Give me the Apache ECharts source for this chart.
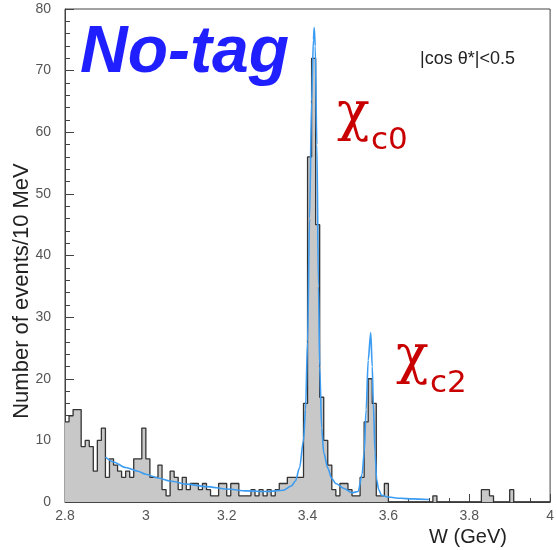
<!DOCTYPE html>
<html>
<head>
<meta charset="utf-8">
<script src="https://cdn.jsdelivr.net/npm/echarts@6/dist/echarts.min.js"></script>
<style>
html,body{margin:0;padding:0;background:#fff;}
#chart{width:557px;height:550px;}
</style>
</head>
<body>
<div id="chart"></div>
<script>
// ---- data ----
const binStart = 2.80;       // GeV, left edge of first bin
const binWidth = 0.01;       // 10 MeV bins
const counts = [
  13,14,15,15,9,10,9,5,10,12,
  4,7,6,5,4,5,4,7,7,12,
  7,4,4,6,2,1,5,4,2,4,
  2,3,3,2,3,2,1,1,3,3,
  1,3,3,1,1,1,2,1,2,1,
  2,1,2,3,3,4,4,4,4,16,
  56,72,45,17,10,6,2,1,3,3,
  2,1,1,4,13,20,16,1,1,3,
  0,0,0,0,0,0,0,0,0,0,
  0,1,0,0,0,0,0,0,0,0,
  0,0,0,2,2,1,0,0,0,0,
  2,0,0,0,0,0,0,0,0,0
];
const fitX = [2.90,2.92,2.95,2.98,3.00,3.03,3.06,3.10,3.15,3.20,3.25,3.30,3.34,3.36,3.37,3.38,3.39,3.395,3.40,3.405,3.41,3.4145,3.4165,3.419,3.423,3.427,3.43,3.435,3.44,3.45,3.46,3.47,3.49,3.51,3.525,3.535,3.54,3.545,3.55,3.5563,3.56,3.5627,3.567,3.571,3.576,3.583,3.60,3.63,3.66,3.70];
const fitY = [7.3,6.5,5.6,5.0,4.5,3.9,3.4,2.9,2.5,2.1,1.8,1.7,1.9,2.6,3.4,5.5,10,15,26,46,65,75,77,74,58,35,22,12,8,5.5,3.8,3.0,2.2,1.5,1.7,4.5,8,15,23,27.5,22,16,8,3.6,2.0,1.1,0.8,0.6,0.5,0.4];
const xTicks = [2.8,3.0,3.2,3.4,3.6,3.8,4.0];
const yTicks = [0,10,20,30,40,50,60,70,80];

// ---- build series data ----
const histData = counts.map((c,i)=>[+(binStart + i*binWidth).toFixed(3), c]);
histData.push([+(binStart + counts.length*binWidth).toFixed(3), counts[counts.length-1]]);
const fitData = fitX.map((x,i)=>[x, fitY[i]]);

const chart = echarts.init(document.getElementById('chart'), null, {renderer:'canvas'});
const FONT = '"Liberation Sans", Arial, sans-serif';
chart.setOption({
  animation:false,
  backgroundColor:'#fff',
  grid:{left:65, top:9, width:492, height:493, show:true, borderColor:'#444', borderWidth:1},
  xAxis:{
    type:'value', min:xTicks[0], max:xTicks[xTicks.length-1], interval:0.2,
    axisLine:{lineStyle:{color:'#444', width:1}},
    axisTick:{inside:true, length:8, lineStyle:{color:'#444'}},
    minorTick:{show:true, splitNumber:4, length:4, lineStyle:{color:'#444'}},
    splitLine:{show:false},
    axisLabel:{color:'#555', fontSize:14, fontFamily:FONT, margin:7,
      formatter:v=>String(+v.toFixed(1))}
  },
  yAxis:{
    type:'value', min:yTicks[0], max:yTicks[yTicks.length-1], interval:10,
    axisLine:{show:true, lineStyle:{color:'#444', width:1}},
    axisTick:{inside:true, length:9, lineStyle:{color:'#444'}},
    minorTick:{show:true, splitNumber:5, length:5, lineStyle:{color:'#444'}},
    splitLine:{show:false},
    axisLabel:{color:'#555', fontSize:14, fontFamily:FONT, margin:14}
  },
  series:[
    {
      type:'line', step:'end', data:histData, symbol:'none',
      lineStyle:{color:'#333', width:1.3},
      areaStyle:{color:'#c8c8c8', opacity:1},
      z:2
    },
    {
      type:'line', data:fitData, symbol:'none', smooth:0.3, smoothMonotone:'x',
      lineStyle:{color:'#3b9cf2', width:1.6},
      z:3
    }
  ],
  graphic:[
    {type:'text', left:80, top:21, z:10, style:{text:'No-tag', font:'italic bold 66px "Liberation Sans", Arial, sans-serif', fill:'#1f1fff'}},
    {type:'text', x:420, y:59, z:10, style:{text:'|cos θ*|<0.5', font:'18px "Liberation Sans", Arial, sans-serif', fill:'#222', textVerticalAlign:'middle'}},
    {type:'text', x:337, y:116, z:10, style:{text:'χ', font:'54px "DejaVu Serif", serif', fill:'#c80000', textVerticalAlign:'middle'}},
    {type:'text', x:371, y:141, z:10, style:{text:'c0', font:'31px "DejaVu Sans", sans-serif', fill:'#c80000', textVerticalAlign:'middle'}},
    {type:'text', x:396, y:359, z:10, style:{text:'χ', font:'54px "DejaVu Serif", serif', fill:'#c80000', textVerticalAlign:'middle'}},
    {type:'text', x:430, y:384, z:10, style:{text:'c2', font:'31px "DejaVu Sans", sans-serif', fill:'#c80000', textVerticalAlign:'middle'}},
    {type:'text', x:22, y:291, rotation:Math.PI/2, z:10, style:{text:'Number of events/10 MeV', font:'22px "Liberation Sans", Arial, sans-serif', fill:'#222', textAlign:'center', textVerticalAlign:'middle'}},
    {type:'text', x:468, y:537, z:10, style:{text:'W (GeV)', font:'20px "Liberation Sans", Arial, sans-serif', fill:'#222', textAlign:'center', textVerticalAlign:'middle'}}
  ]
});
</script>
</body>
</html>
